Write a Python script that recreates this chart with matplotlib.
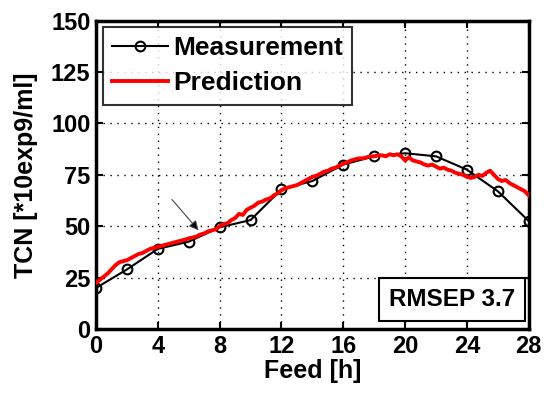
import matplotlib
matplotlib.use("Agg")
import matplotlib.pyplot as plt

plt.rcParams['font.family'] = ['Liberation Sans', 'DejaVu Sans']
plt.rcParams['font.weight'] = 'bold'

meas_x = [0, 2, 4, 6, 8, 10, 12, 14, 16, 18, 20, 22, 24, 26, 28]
meas_y = [20, 29, 39, 42.5, 49.5, 53, 68, 72, 80, 84, 85.5, 84, 77.5, 67, 52.5]

pred_y = [
    22.5, 24, 25.5, 27,
    29, 31, 32.5, 33,
    33.5, 34.5, 35.5, 36.5,
    37, 38, 39, 39.5,
    40, 40.5, 41, 41.5,
    42, 42.5, 43, 43.5,
    44, 44.5, 45, 46,
    46.5, 47.5, 48, 48.5,
    50, 51, 51.5, 53,
    54, 56, 55.5, 58,
    59, 60, 61.5, 62,
    63, 63.5, 65, 66,
    67.5, 68.5, 69, 69.5,
    70, 71, 72, 73,
    74, 74.5, 75.5, 76.5,
    77, 78, 78.5, 79.5,
    80.5, 81, 82, 82.5,
    83, 83, 83.5, 84,
    84, 84.5, 84.5, 84,
    85, 84.5, 85, 84,
    82, 83.5, 82, 81.5,
    81, 80, 79.5, 80,
    79, 78, 78.5, 77.5,
    77, 76, 75.5, 75,
    74, 73.5, 74, 75,
    74.5, 76, 77, 75,
    73, 72, 72.5, 71,
    70, 69, 68, 67,
    65,
]
pred_x = [i * 0.25 for i in range(len(pred_y))]

x_ticks = [0, 4, 8, 12, 16, 20, 24, 28]
y_ticks = [0, 25, 50, 75, 100, 125, 150]

fig = plt.figure(figsize=(5.44, 3.96), dpi=100)
ax = fig.add_axes([0.1765, 0.169, 0.7955, 0.779])

ax.plot(meas_x, meas_y, color='black', lw=1.5, marker='o', ms=7,
        mfc='none', mec='black', mew=1.5, label='Measurement', zorder=3)
ax.plot(pred_x, pred_y, color='#ff0000', lw=2.8, label='Prediction', zorder=4)

ax.set_xlim(0, 28)
ax.set_ylim(0, 150)
ax.set_xticks(x_ticks)
ax.set_yticks(y_ticks)
ax.tick_params(direction='in', length=5, width=1.5, labelsize=17, pad=4,
               top=True, right=True)
for lab in ax.get_xticklabels() + ax.get_yticklabels():
    lab.set_fontweight('bold')
ax.grid(True, color='black', linestyle=(0, (1, 4)), linewidth=1.0)
for s in ax.spines.values():
    s.set_linewidth(2.5)

ax.set_xlabel('Feed [h]', fontsize=18, fontweight='bold', labelpad=1)
ax.set_ylabel('TCN [*10exp9/ml]', fontsize=18, fontweight='bold', labelpad=9)

leg = ax.legend(loc='upper left', fontsize=19, frameon=True, fancybox=False,
                edgecolor='black', handlelength=2.1, handletextpad=0.2,
                borderpad=0.35, labelspacing=0.42, bbox_to_anchor=(0.016, 0.979),
                borderaxespad=0)
leg.get_frame().set_linewidth(1.5)
for t in leg.get_texts():
    t.set_fontweight('bold')

ax.text(0.823, 0.096, 'RMSEP 3.7', transform=ax.transAxes, fontsize=17.5,
        fontweight='bold', ha='center', va='center',
        bbox=dict(boxstyle='square,pad=0.4', fc='white', ec='black', lw=1.5),
        zorder=5)

ax.annotate('', xy=(6.75, 47), xytext=(4.8, 64),
            arrowprops=dict(arrowstyle='-|>', color='#444444', lw=0.8,
                            mutation_scale=14, fc='black'), zorder=6)

fig.savefig('out.png', dpi=100)
